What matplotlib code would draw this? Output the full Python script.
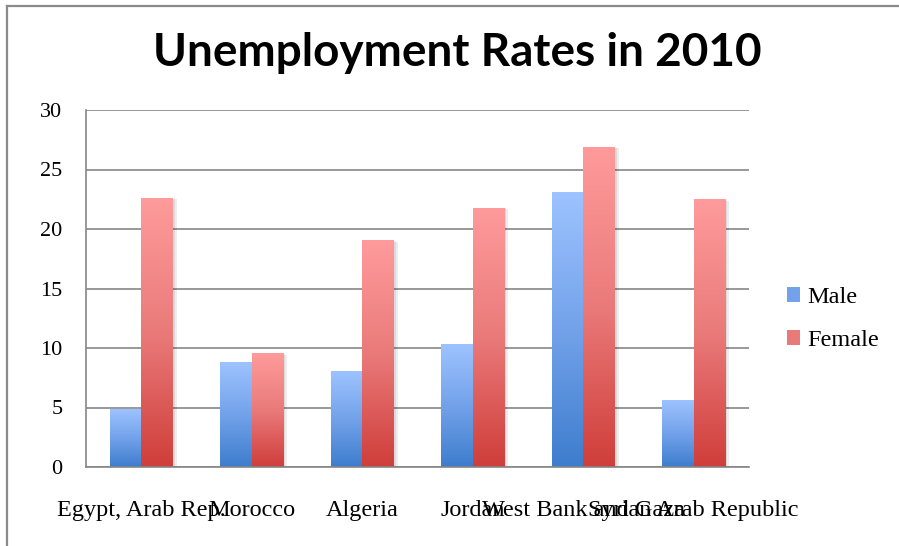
import numpy as np
import matplotlib
matplotlib.use("Agg")
import matplotlib.pyplot as plt
import matplotlib.patheffects as pe
from matplotlib.colors import to_rgb
from matplotlib.patches import Patch
from matplotlib.lines import Line2D

countries = ["Egypt, Arab Rep.", "Morocco", "Algeria", "Jordan",
             "West Bank and Gaza", "Syrian Arab Republic"]
male = [4.85, 8.8, 8.05, 10.3, 23.1, 5.6]
female = [22.6, 9.55, 19.05, 21.8, 26.9, 22.5]
yticks = [0, 5, 10, 15, 20, 25, 30]

male_cols = ["#3d7dcd", "#73a2ea", "#9dc3ff"]      # bottom, middle, top
female_cols = ["#cf3e3a", "#ea7a7a", "#ff9b9b"]
grey = "#868686"
serif = ["Liberation Serif", "DejaVu Serif"]


def gradient(cols, n=256):
    # vertical gradient, dark at the bottom and light at the top
    c = np.array([to_rgb(k) for k in cols])
    t = np.linspace(0, 1, n)
    pos = np.linspace(0, 1, len(cols))
    g = np.stack([np.interp(t, pos, c[:, i]) for i in range(3)], axis=1)
    return g[:, None, :]


fig = plt.figure(figsize=(8.99, 5.46), dpi=100, facecolor="white")
ax = fig.add_axes([86 / 899, 1 - 467 / 546, 663 / 899, 357 / 546])

x = np.arange(len(countries))
w = 0.285
shadow = [pe.SimplePatchShadow(offset=(3, -1), shadow_rgbFace="k", alpha=0.07),
          pe.SimplePatchShadow(offset=(1.5, -0.5), shadow_rgbFace="k", alpha=0.08),
          pe.Normal()]
bm = ax.bar(x - w / 2, male, w, color=male_cols[1], zorder=2, path_effects=shadow)
bf = ax.bar(x + w / 2, female, w, color=female_cols[1], zorder=2, path_effects=shadow)

# gradient fill clipped to each bar
for bars, cols in [(bm, male_cols), (bf, female_cols)]:
    g = gradient(cols)
    for p in bars:
        x0, y0 = p.get_x(), p.get_y()
        im = ax.imshow(g, extent=[x0, x0 + p.get_width(), y0, y0 + p.get_height()],
                       origin="lower", aspect="auto", zorder=2.5, interpolation="bilinear")
        im.set_clip_path(p)

ax.set_xlim(-0.5, len(countries) - 0.5)
ax.set_ylim(0, 30)
ax.set_yticks(yticks)
ax.set_xticks(x)
ax.set_xticklabels(countries, fontfamily=serif, fontsize=17.5)
for t in ax.get_yticklabels():
    t.set_fontfamily(serif)
    t.set_fontsize(16)
ax.tick_params(axis="x", length=0, pad=24)
ax.tick_params(axis="y", length=0, pad=17)
ax.yaxis.grid(True, color=grey, linewidth=1.2)
ax.set_axisbelow(True)
for s in ["top", "right"]:
    ax.spines[s].set_visible(False)
for s in ["left", "bottom"]:
    ax.spines[s].set_color(grey)
    ax.spines[s].set_linewidth(1.2)
ax.spines["bottom"].set_zorder(3)

fig.text(457 / 899, 1 - 53 / 546, "Unemployment Rates in 2010",
         ha="center", va="center", fontsize=33, fontweight="bold",
         family=["Lato", "DejaVu Sans"])

handles = [Patch(facecolor=male_cols[1]), Patch(facecolor=female_cols[1])]
fig.legend(handles, ["Male", "Female"], loc="center left",
           bbox_to_anchor=(787 / 899, 1 - 319 / 546), frameon=False,
           prop={"family": serif, "size": 17.5}, handlelength=0.55,
           handleheight=0.55, handletextpad=0.3, labelspacing=0.9,
           borderpad=0, borderaxespad=0)

# chart-area border (only top and left edges visible)
fig.add_artist(Line2D([7 / 899, 7 / 899], [0, 1 - 6 / 546], transform=fig.transFigure,
                      color="#8a8a8a", linewidth=1.6))
fig.add_artist(Line2D([7 / 899, 1], [1 - 6 / 546, 1 - 6 / 546], transform=fig.transFigure,
                      color="#8a8a8a", linewidth=1.6))

fig.savefig("out.png", dpi=100, facecolor="white")
